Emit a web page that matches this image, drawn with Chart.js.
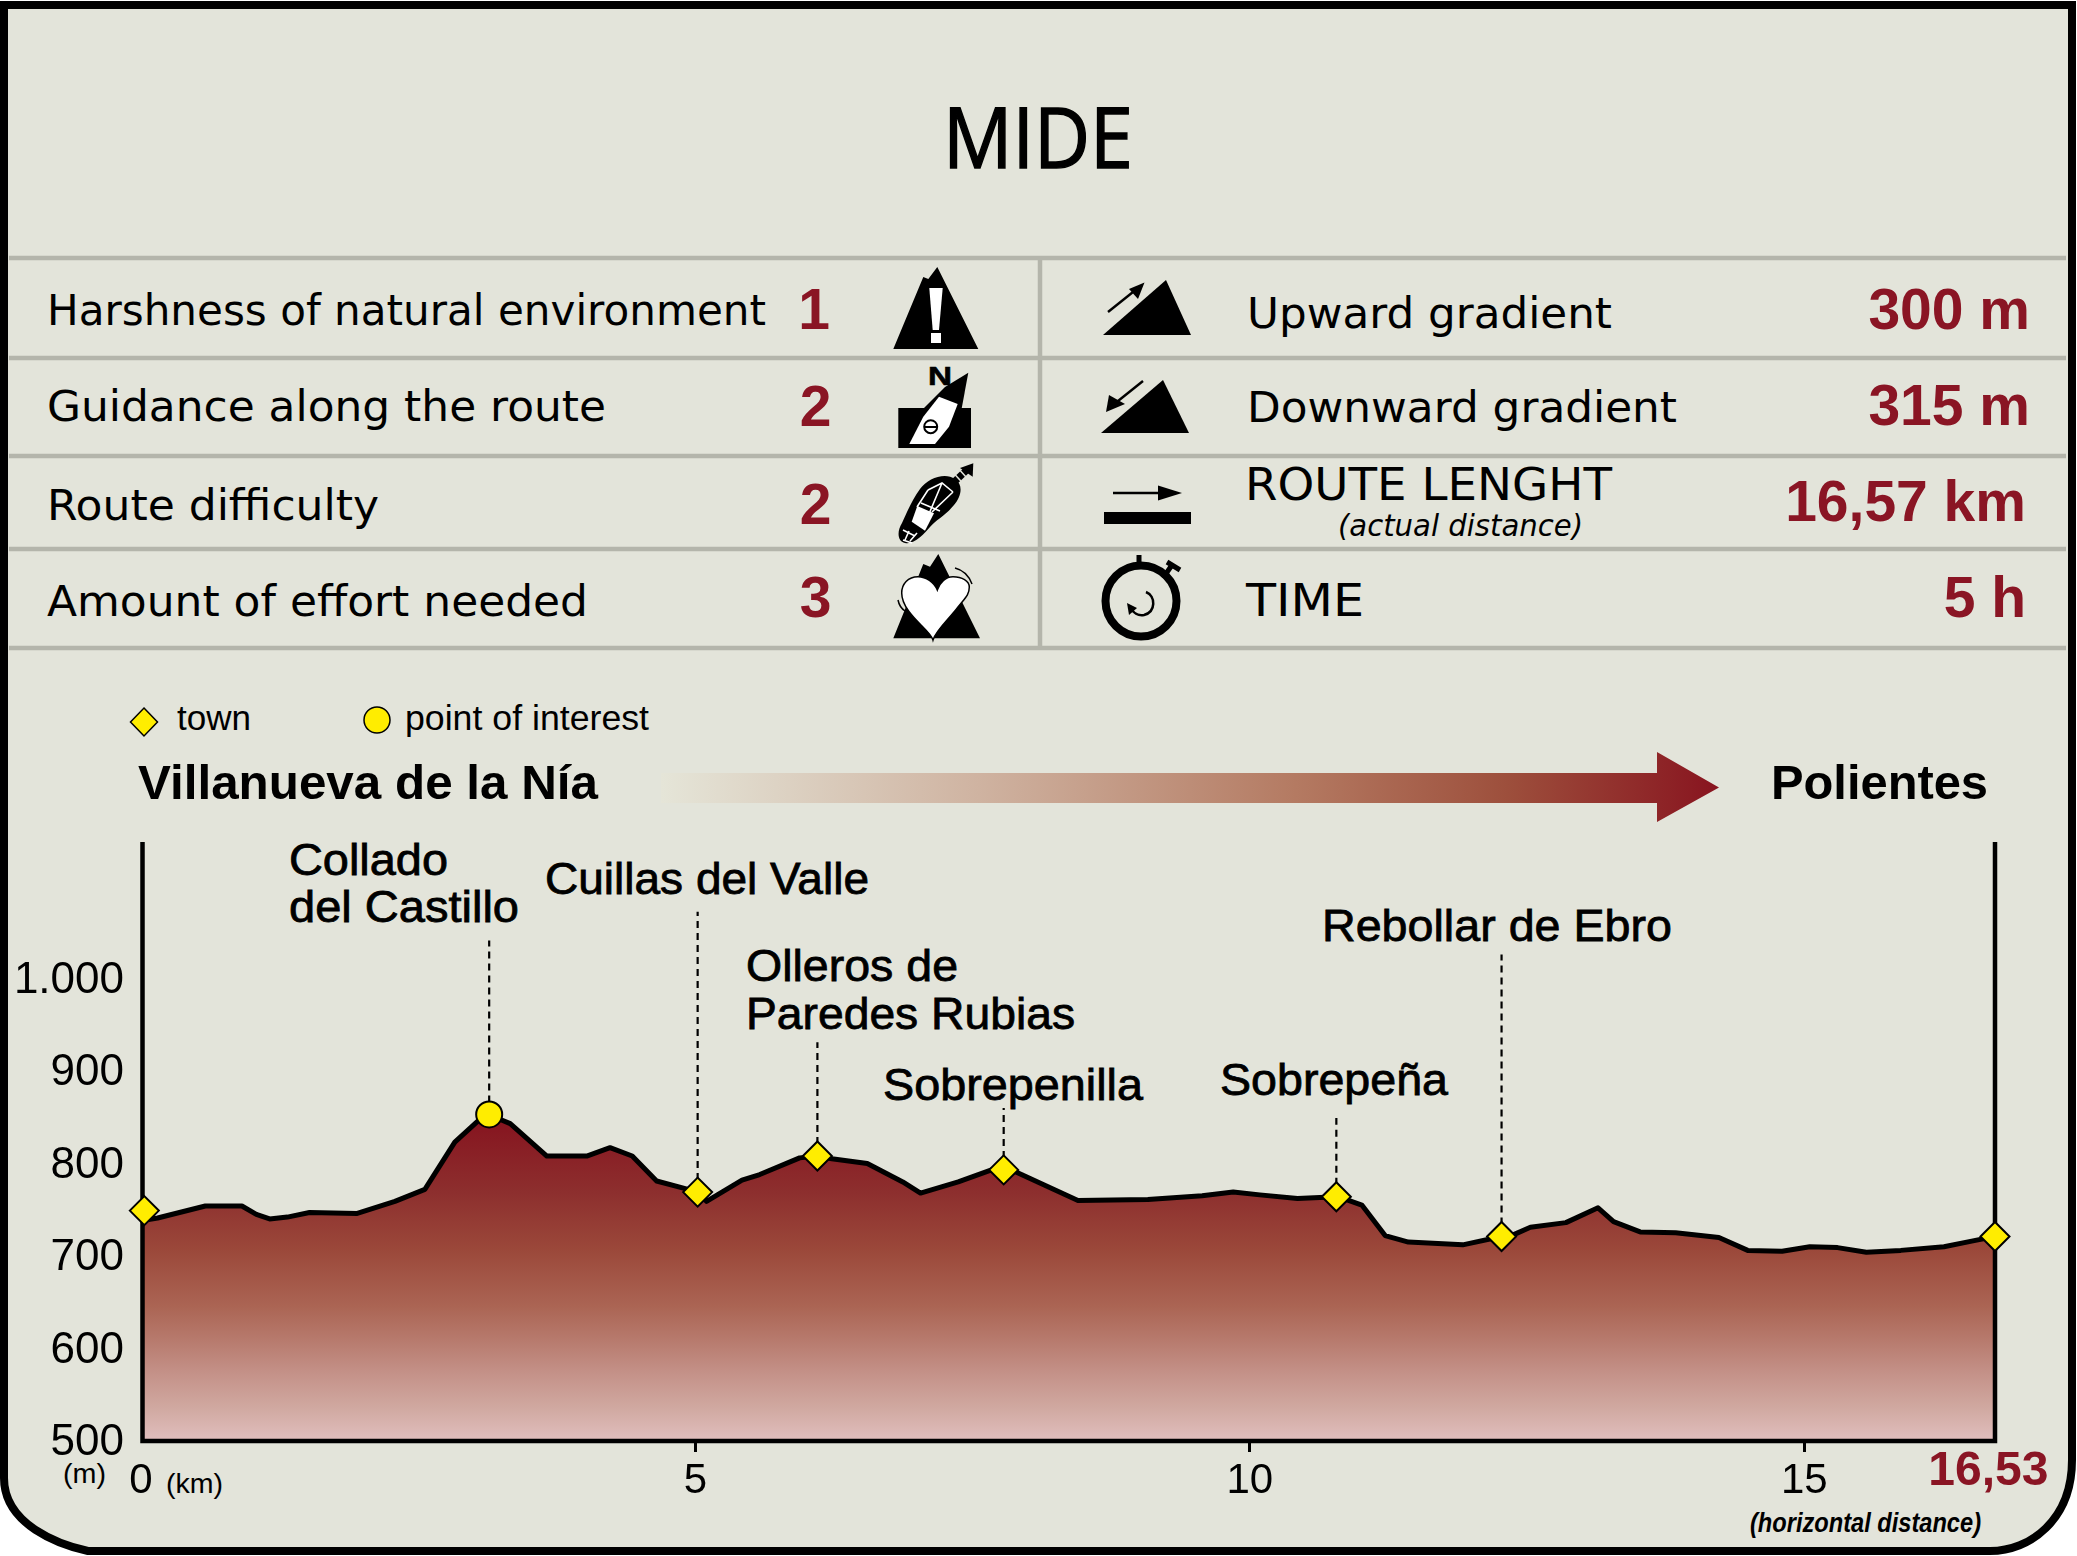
<!DOCTYPE html>
<html>
<head>
<meta charset="utf-8">
<title>MIDE</title>
<script src="https://cdn.jsdelivr.net/npm/chart.js@4/dist/chart.umd.min.js"></script>
<style>
  body { margin: 0; background: #fff; }
  #wrap { position: relative; width: 2077px; height: 1556px; overflow: hidden; }
  #panel, #profile { position: absolute; left: 0; top: 0; }
</style>
</head>
<body>
<div id="wrap">
<svg id="panel" width="2077" height="1556" viewBox="0 0 2077 1556" xmlns="http://www.w3.org/2000/svg">
  <defs>
    <linearGradient id="routeArrow" gradientUnits="userSpaceOnUse" x1="661" y1="0" x2="1719" y2="0">
      <stop offset="0" stop-color="#e5e5d8"/>
      <stop offset="0.3" stop-color="#cfb3a1"/>
      <stop offset="0.6" stop-color="#b47a62"/>
      <stop offset="0.8" stop-color="#9d4f3c"/>
      <stop offset="1" stop-color="#88141f"/>
    </linearGradient>
  </defs>
  <!-- frame of the card -->
  <path d="M4,5 H2072 V1460 C2072,1520 2030,1551 1990,1551 H88 C60,1545 4,1525 4,1478 Z" fill="#e3e4da" stroke="#000" stroke-width="8"/>
  <!-- table rules -->
  <g stroke="#b4b5ab" stroke-width="4.5">
    <path d="M9,258 H2066 M9,358 H2066 M9,456 H2066 M9,549 H2066 M9,648 H2066 M1040,258 V648"/>
  </g>
  <!-- left icons -->
  <polygon points="937.3,267 928.3,279 923.3,277 893.3,349 978.3,349"/>
  <polygon points="929.3,288 942.7,288 939,330 932.7,330" fill="#fff"/>
  <rect x="931" y="333" width="10" height="10" fill="#fff"/>
  <rect x="898.3" y="408" width="72.7" height="40"/>
  <polygon points="968.3,372.7 945,387 918,414 961,412"/>
  <polygon points="909.3,444 923.3,416.7 939,396.7 957.7,404 949,426.7 935,444" fill="#fff"/>
  <circle cx="930.7" cy="426.7" r="6.5" fill="#fff" stroke="#000" stroke-width="2"/>
  <path d="M924,427 H937" stroke="#000" stroke-width="2"/>
  <path d="M905,543 C897,541 897,531 902,523 C908,510 912,500 920,489 C928,478 945,472 955,479 C964,485 961,497 954,505 C946,515 936,520 930,527 C924,534 914,545 905,543 Z"/>
  <polygon points="917.3,506 934,513.3 925,530.7 911.7,521.7" fill="#fff"/>
  <path d="M928,490 L917,507 M942,483 L926,521 M953,492 L932,512 M928,490 L942,483 L953,492 M921,503 L940,511 M909,531 L905,540 M917,533 L910,541 M903,530 L915,536 M903,540 L912,543" stroke="#fff" stroke-width="1.6" fill="none"/>
  <path d="M954,482 L968,469" stroke="#000" stroke-width="7" stroke-dasharray="5 1.5"/>
  <polygon points="960,468 973.3,463.3 972.7,476.7"/>
  <polygon points="938.3,554 930,566.7 923.3,564 893.3,638.3 980,638.3"/>
  <path d="M937.3,590 C934,582 926,576.7 918,576.7 C908,576.7 901.7,584 901.7,593 C901.7,606 914,618 922,626 C928,632 932,636 933,640 C936,630 950,618 958,607 C965,598 969.3,595 969.3,587 C969.3,581 962,576.7 953,576.7 C946,576.7 940,582 937.3,590 Z" fill="#fff" stroke="#000" stroke-width="1.5"/>
  <path d="M955,568 C963,570 969,576 972,584 M898,600 C899,605 902,609 905,611" stroke="#000" stroke-width="1.5" fill="none"/>
  <!-- right icons -->
  <polygon points="1103,335 1191,335 1166,280"/>
  <path d="M1108,312 L1138,288" stroke="#000" stroke-width="2.5"/>
  <polygon points="1144.5,282.5 1129,289 1138,299"/>
  <polygon points="1101,433 1189,433 1163,380"/>
  <path d="M1143,381 L1113,405" stroke="#000" stroke-width="2.5"/>
  <polygon points="1106,412 1109,395 1125,404"/>
  <path d="M1113,493 H1160" stroke="#000" stroke-width="2.5"/>
  <polygon points="1158,485.5 1182,493 1158,500.5"/>
  <rect x="1104" y="512" width="87" height="12"/>
  <circle cx="1141" cy="601" r="35.5" fill="none" stroke="#000" stroke-width="8"/>
  <path d="M1139,555 V566 M1172,565 L1163,578 M1167,562 L1180,570" stroke="#000" stroke-width="5"/>
  <path d="M1146,592 C1156,596 1156,612 1144,615 C1138,616 1133,613 1131,608" fill="none" stroke="#000" stroke-width="2.5"/>
  <polygon points="1127,603 1137,608 1129,615"/>
  <!-- direction arrow -->
  <polygon points="661,773 1657,773 1657,752 1719,787.5 1657,822 1657,803 661,803" fill="url(#routeArrow)"/>
  <!-- legend marks -->
  <polygon points="144,708 157.5,722 144,736 130.5,722" fill="#ffed00" stroke="#000" stroke-width="1.5"/>
  <circle cx="377" cy="720" r="13" fill="#ffed00" stroke="#000" stroke-width="1.5"/>
  <g id="labels"></g>
</svg>
<canvas id="profile" width="2077" height="1556"></canvas>
</div>

<script>
// elevation profile (km along the route, metres)
const profileKm = [0, 0.15, 0.58, 0.91, 1.04, 1.16, 1.32, 1.52, 1.95, 2.29, 2.56, 2.83, 3.05, 3.14, 3.23, 3.33,
  3.66, 4.02, 4.23, 4.43, 4.65, 4.90, 5.02, 5.10, 5.42, 5.58, 5.94, 6.10, 6.23, 6.55, 6.87, 7.03, 7.37, 7.67, 7.78,
  7.92, 8.45, 9.08, 9.57, 9.85, 10.09, 10.43, 10.78, 10.89, 11.01, 11.22, 11.43, 11.92, 12.27, 12.38, 12.53,
  12.85, 13.14, 13.28, 13.52, 13.84, 14.23, 14.49, 14.80, 15.05, 15.30, 15.56, 15.87, 16.26, 16.51, 16.72];
const profileElev = [737, 740, 753, 753, 744, 739, 741, 746, 745, 758, 771, 822, 846, 852, 847, 842,
  807, 807, 816, 807, 780, 772, 768, 758, 781, 787, 805, 807, 804, 799, 779, 767, 779, 792, 796,
  788, 759, 760, 764, 768, 765, 761, 763, 759, 754, 721, 714, 711, 720, 722, 730,
  735, 751, 736, 725, 724, 719, 705, 704, 709, 708, 703, 705, 709, 715, 720];

const townKm = [0.03, 5.02, 6.10, 7.78, 10.78, 12.27, 16.72];
const townElev = [748, 768, 807, 792, 763, 720, 720];
const poiKm = [3.14];
const poiElev = [852];

// dotted leaders: from the mark up to this height, under each place name
const leaderKm = [3.14, 5.02, 6.10, 7.78, 10.78, 12.27];
const leaderFrom = [852, 768, 807, 792, 763, 720];
const leaderTo = [1040, 1071, 930, 859, 848, 1025];

const yTickValues = [500, 600, 700, 800, 900, 1000];
const yTickLabels = ["500", "600", "700", "800", "900", "1.000"];
const xTickValues = [0, 5, 10, 15, 16.72];
const xTickLabels = ["0", "5", "10", "15", "16,53"];

const DARK_RED = "#8a1524";
const YELLOW = "#ffed00";

// every text outside the axes: text, x, baseline, width (null = natural), style
const SANS = "'Liberation Sans'";
const TABLE = "'DejaVu Sans'";
const overlayText = [
  ["MIDE", 943, 168, 190, { font: "'Open Sans'", size: 84, stroke: 1.5 }],
  ["Harshness of natural environment", 47, 325, 719, { font: TABLE, size: 43 }],
  ["Guidance along the route", 47, 421, 559, { font: TABLE, size: 43 }],
  ["Route difficulty", 47, 520, 332, { font: TABLE, size: 43 }],
  ["Amount of effort needed", 47, 616, 541, { font: TABLE, size: 43 }],
  ["Upward gradient", 1247, 328, 365, { font: TABLE, size: 43 }],
  ["Downward gradient", 1247, 422, 430, { font: TABLE, size: 43 }],
  ["ROUTE LENGHT", 1245, 500, 367, { font: TABLE, size: 44 }],
  ["(actual distance)", 1338, 536, 245, { font: TABLE, size: 31, style: "italic" }],
  ["TIME", 1246, 616, 118, { font: TABLE, size: 44 }],
  ["N", 928, 385, 24, { font: SANS, size: 25, weight: "bold", stroke: 0.6 }],
  ["1", 814, 329, null, { font: SANS, size: 57, weight: "bold", fill: DARK_RED, anchor: "middle" }],
  ["2", 815.5, 426, null, { font: SANS, size: 57, weight: "bold", fill: DARK_RED, anchor: "middle" }],
  ["2", 815.5, 524, null, { font: SANS, size: 57, weight: "bold", fill: DARK_RED, anchor: "middle" }],
  ["3", 815.5, 617, null, { font: SANS, size: 57, weight: "bold", fill: DARK_RED, anchor: "middle" }],
  ["300 m", 2030, 329, null, { font: SANS, size: 57, weight: "bold", fill: DARK_RED, anchor: "end" }],
  ["315 m", 2030, 425, null, { font: SANS, size: 57, weight: "bold", fill: DARK_RED, anchor: "end" }],
  ["16,57 km", 2026, 521, null, { font: SANS, size: 57, weight: "bold", fill: DARK_RED, anchor: "end" }],
  ["5 h", 2026, 617, null, { font: SANS, size: 57, weight: "bold", fill: DARK_RED, anchor: "end" }],
  ["town", 177, 730, 74, { font: SANS, size: 35 }],
  ["point of interest", 405, 730, 244, { font: SANS, size: 35 }],
  ["Villanueva de la Nía", 138, 799, 460, { font: SANS, size: 48.5, weight: "bold" }],
  ["Polientes", 1771, 799, 217, { font: SANS, size: 48.5, weight: "bold" }],
  ["Collado", 289, 875, 159, { font: SANS, size: 45, stroke: 0.8 }],
  ["del Castillo", 289, 922, 230, { font: SANS, size: 45, stroke: 0.8 }],
  ["Cuillas del Valle", 545, 894, 324, { font: SANS, size: 45, stroke: 0.8 }],
  ["Olleros de", 746, 981, 212, { font: SANS, size: 45, stroke: 0.8 }],
  ["Paredes Rubias", 746, 1029, 329, { font: SANS, size: 45, stroke: 0.8 }],
  ["Sobrepenilla", 883, 1100, 260, { font: SANS, size: 45, stroke: 0.8 }],
  ["Sobrepeña", 1220, 1095, 228, { font: SANS, size: 45, stroke: 0.8 }],
  ["Rebollar de Ebro", 1322, 941, 350, { font: SANS, size: 45, stroke: 0.8 }],
  ["(m)", 63, 1483, 43, { font: SANS, size: 28 }],
  ["(km)", 166, 1493, 57, { font: SANS, size: 28 }],
  ["(horizontal distance)", 1750, 1532, 231, { font: SANS, size: 27, weight: "bold", style: "italic" }],
];

const NS = "http://www.w3.org/2000/svg";
const labelGroup = document.getElementById("labels");
overlayText.forEach(([text, x, y, width, s]) => {
  const el = document.createElementNS(NS, "text");
  el.textContent = text;
  el.setAttribute("x", x);
  el.setAttribute("y", y);
  el.setAttribute("font-family", s.font);
  el.setAttribute("font-size", s.size);
  el.setAttribute("fill", s.fill || "#000");
  if (s.weight) el.setAttribute("font-weight", s.weight);
  if (s.style) el.setAttribute("font-style", s.style);
  if (s.anchor) el.setAttribute("text-anchor", s.anchor);
  if (s.stroke) {
    el.setAttribute("stroke", "#000");
    el.setAttribute("stroke-width", s.stroke);
  }
  if (width) {
    el.setAttribute("textLength", width);
    el.setAttribute("lengthAdjust", "spacingAndGlyphs");
  }
  labelGroup.appendChild(el);
});

const toPoints = (xs, ys) => xs.map((x, i) => ({ x: x, y: ys[i] }));

// leaders go in one dataset, broken up by null points
const leaderPoints = [];
leaderKm.forEach((km, i) => {
  leaderPoints.push({ x: km, y: leaderFrom[i] }, { x: km, y: leaderTo[i] }, { x: km, y: null });
});

// gradient of the area, anchored to elevations on the y scale
function areaGradient(context) {
  const chart = context.chart;
  if (!chart.chartArea) return "#974337";
  const y = chart.scales.y;
  const top = y.getPixelForValue(846);
  const bottom = y.getPixelForValue(500);
  const g = chart.ctx.createLinearGradient(0, top, 0, bottom);
  g.addColorStop(0, "#86141f");
  g.addColorStop(0.228, "#8d2f2e");
  g.addColorStop(0.406, "#9b483a");
  g.addColorStop(0.584, "#ab6554");
  g.addColorStop(0.687, "#b77a6d");
  g.addColorStop(0.79, "#c49188");
  g.addColorStop(0.897, "#d0a8a0");
  g.addColorStop(1, "#e0bebd");
  return g;
}

// the frame lines sit on the area but under the marks
const framePlugin = {
  id: "frame",
  afterDatasetDraw(chart, args) {
    if (chart.data.datasets[args.index].label !== "Elevation") return;
    const { ctx, chartArea: a } = chart;
    ctx.save();
    ctx.strokeStyle = "#000";
    ctx.lineWidth = 4.5;
    ctx.beginPath();
    ctx.moveTo(a.left + 1.5, a.top);
    ctx.lineTo(a.left + 1.5, a.bottom + 1);
    ctx.lineTo(a.right, a.bottom + 1);
    ctx.lineTo(a.right, a.top);
    ctx.stroke();
    ctx.restore();
  },
};

new Chart("profile", {
  type: "scatter",
  data: {
    datasets: [
      {
        label: "point of interest",
        data: toPoints(poiKm, poiElev),
        pointStyle: "circle",
        pointRadius: 13,
        backgroundColor: YELLOW,
        borderColor: "#000",
        borderWidth: 2,
        clip: false,
        order: 1,
      },
      {
        label: "town",
        data: toPoints(townKm, townElev),
        pointStyle: "rectRot",
        pointRadius: 14.5,
        backgroundColor: YELLOW,
        borderColor: "#000",
        borderWidth: 2,
        clip: false,
        order: 1,
      },
      {
        label: "Leaders",
        data: leaderPoints,
        showLine: true,
        spanGaps: false,
        borderColor: "#000",
        borderWidth: 2.2,
        borderDash: [7, 5],
        pointRadius: 0,
        clip: false,
        order: 2,
      },
      {
        label: "Elevation",
        data: toPoints(profileKm, profileElev),
        showLine: true,
        tension: 0,
        fill: "origin",
        backgroundColor: areaGradient,
        borderColor: "#000",
        borderWidth: 5,
        borderJoinStyle: "round",
        pointRadius: 0,
        order: 10,
      },
    ],
  },
  options: {
    responsive: false,
    animation: false,
    devicePixelRatio: 1,
    layout: { padding: { left: 0, right: 82, top: 842, bottom: 0 } },
    plugins: { legend: { display: false }, tooltip: { enabled: false } },
    scales: {
      x: {
        type: "linear",
        min: 0,
        max: 16.72,
        afterBuildTicks: (scale) => {
          scale.ticks = xTickValues.map((v) => ({ value: v }));
        },
        afterFit: (scale) => {
          scale.height = 116;
        },
        border: { display: false },
        grid: {
          drawOnChartArea: false,
          tickLength: 12,
          tickWidth: 3,
          tickColor: (ctx) => (ctx.index > 0 && ctx.index < 4 ? "#000" : "transparent"),
        },
        ticks: {
          autoSkip: false,
          maxRotation: 0,
          padding: 4,
          color: (ctx) => (ctx.index === 4 ? DARK_RED : "#000"),
          font: (ctx) =>
            ctx.index === 4
              ? { family: "'Liberation Sans'", size: 48, weight: "bold", lineHeight: "32px" }
              : { family: "'Liberation Sans'", size: 42, lineHeight: "50px" },
          // the trailing space pulls the centred 16,53 a little to the left
          callback: (value, index) => (index === 4 ? xTickLabels[index] + " " : xTickLabels[index]),
        },
      },
      y: {
        min: 500,
        max: 1146.5,
        afterBuildTicks: (scale) => {
          scale.ticks = yTickValues.map((v) => ({ value: v }));
        },
        afterFit: (scale) => {
          scale.width = 141;
        },
        border: { display: false },
        grid: { display: false },
        ticks: {
          padding: 9,
          labelOffset: 3,
          color: "#000",
          font: { family: "'Liberation Sans'", size: 44 },
          callback: (value, index) => yTickLabels[index],
        },
      },
    },
  },
  plugins: [framePlugin],
});
</script>
</body>
</html>
